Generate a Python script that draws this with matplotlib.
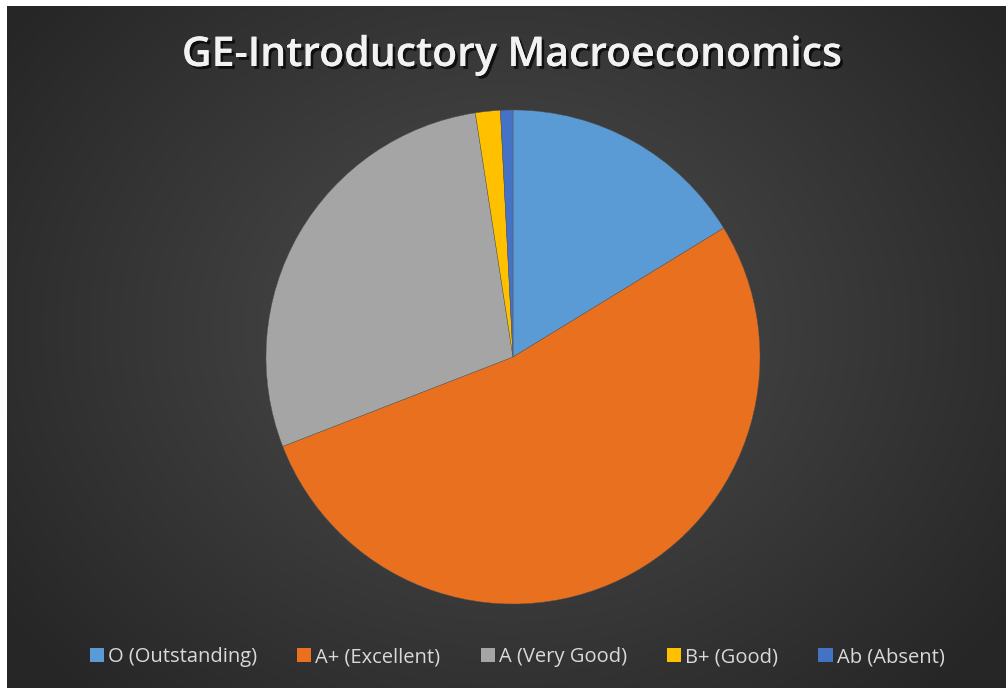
import numpy as np
import matplotlib
matplotlib.use("Agg")
import matplotlib.pyplot as plt
import matplotlib.patheffects as pe
from matplotlib.patches import Rectangle

title = "GE-Introductory Macroeconomics"
categories = ["O (Outstanding)", "A+ (Excellent)", "A (Very Good)", "B+ (Good)", "Ab (Absent)"]
counts = [20, 65, 35, 2, 1]
colors = ["#5B9BD5", "#E8701E", "#A5A5A5", "#FFC000", "#4472C4"]

W, H = 1006, 688
fig = plt.figure(figsize=(W / 100, H / 100), dpi=100)
fig.patch.set_facecolor("white")

# background radial gradient (chart area starts after small white margin)
bx0, by_top = 7, 6
bg = fig.add_axes([bx0 / W, 0, 1 - bx0 / W, 1 - by_top / H])
bg.set_axis_off()
ny, nx = 300, 440
yy, xx = np.mgrid[0:ny, 0:nx]
cx, cy = nx * 0.50, ny * 0.47
r = np.sqrt(((xx - cx) / (nx * 0.62)) ** 2 + ((yy - cy) / (ny * 0.75)) ** 2)
r = np.clip(r, 0, 1)
inner = np.array([0x4e, 0x4e, 0x4e]) / 255
outer = np.array([0x26, 0x26, 0x26]) / 255
img = inner[None, None, :] * (1 - r[..., None]) + outer[None, None, :] * r[..., None]
bg.imshow(img, aspect="auto", extent=[0, 1, 0, 1], interpolation="bilinear")
bg.set_xlim(0, 1)
bg.set_ylim(0, 1)

# pie
cxp, cyp, rad = 513, 357, 247
ax = fig.add_axes([(cxp - rad) / W, 1 - (cyp + rad) / H, 2 * rad / W, 2 * rad / H])
ax.set_axis_off()
wedges, _ = ax.pie(counts, colors=colors, startangle=90, counterclock=False,
                   wedgeprops=dict(linewidth=0.3, edgecolor="#555555"), radius=1)
ax.set_xlim(-1, 1)
ax.set_ylim(-1, 1)

# title
fig.text(512 / W, 1 - 55 / H, title, ha="center", va="center", color="#F2F2F2",
         fontsize=29.5, fontweight="semibold", family="Open Sans",
         path_effects=[pe.withSimplePatchShadow(offset=(2, -2), shadow_rgbFace="black", alpha=0.7),
                       pe.Normal()])

# legend
handles = [Rectangle((0, 0), 1, 1, facecolor=c, edgecolor="none") for c in colors]
leg = fig.legend(handles, categories, loc="center", bbox_to_anchor=(517 / W, 1 - 657 / H),
                 ncol=5, frameon=False, handlelength=0.7, handleheight=0.7,
                 handletextpad=0.2, columnspacing=2.0,
                 prop=dict(family="Open Sans", size=14.5))
for t in leg.get_texts():
    t.set_color("#D9D9D9")

fig.savefig("out.png", dpi=100, facecolor=fig.get_facecolor())
